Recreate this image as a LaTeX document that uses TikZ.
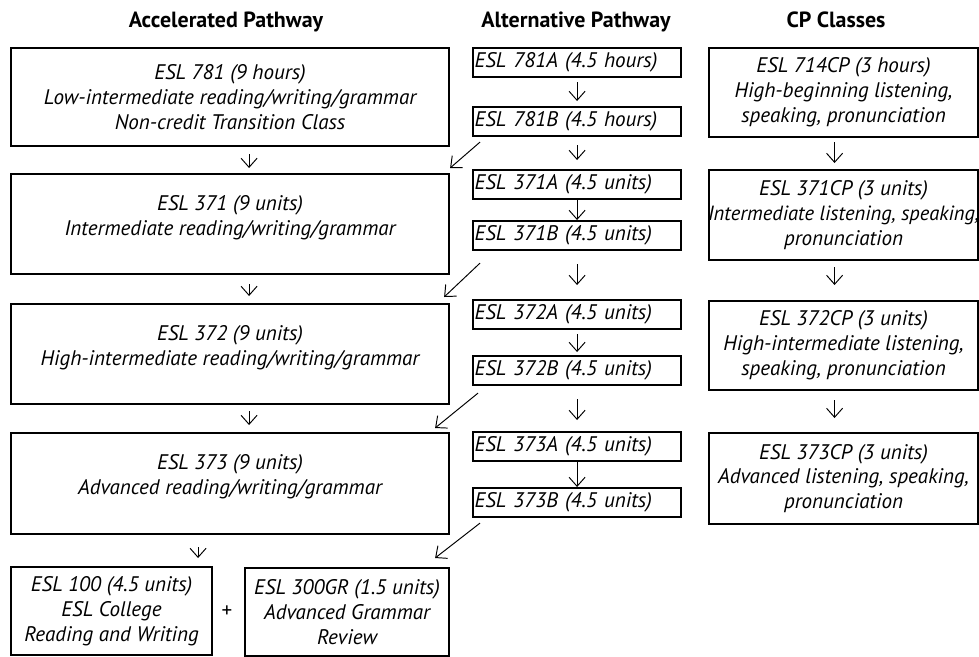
\documentclass[tikz,border=0pt]{standalone}
\usepackage{fontspec}
\setmainfont{PT Sans}
\usepackage{tikz}
\usetikzlibrary{arrows.meta, positioning}
\newcommand{\gapline}{\\[-4pt]\mbox{}}

\begin{document}
\begin{tikzpicture}[x=0.2mm, y=-0.2mm,
  every node/.style={font=\fontsize{12}{14.2}\selectfont\itshape, inner sep=0pt},
  bigbox/.style={draw, line width=1.2pt, align=center, anchor=north west},
  altbox/.style={draw, line width=1.2pt, anchor=north west, minimum width=41.6mm, minimum height=5.8mm, text width=41mm, inner xsep=0.3mm, align=left},
  cpbox/.style={bigbox, minimum width=53.8mm},
  heading/.style={font=\fontsize{12.5}{14.2}\selectfont\bfseries, anchor=base},
  arr/.style={-{Straight Barb[length=1.8mm, width=3.2mm]}, line width=0.55pt}]
  \useasboundingbox (0,0) rectangle (979,656);
  \node[heading] (hacc) at (226,27) {Accelerated Pathway};
  \node[heading] (halt) at (576,27) {Alternative Pathway};
  \node[heading] (hcp) at (836,27) {CP Classes};

  \node[bigbox, minimum width=87.6mm, minimum height=19.6mm] (b781) at (10,47) {ESL 781 (9 hours)\\Low-intermediate reading/writing/grammar\\Non-credit Transition Class};
  \node[bigbox, minimum width=87.6mm, minimum height=20mm] (b371) at (10,173) {ESL 371 (9 units)\\Intermediate reading/writing/grammar\gapline};
  \node[bigbox, minimum width=87.6mm, minimum height=20mm] (b372) at (10,303) {ESL 372 (9 units)\\High-intermediate reading/writing/grammar\gapline};
  \node[bigbox, minimum width=87.6mm, minimum height=20.2mm] (b373) at (10,432) {ESL 373 (9 units)\\Advanced reading/writing/grammar\gapline};
  \node[bigbox, minimum width=40.2mm, minimum height=17.6mm] (b100) at (10,566) {ESL 100 (4.5 units)\\ESL College\\Reading and Writing};
  \node[font=\fontsize{12}{14.2}\selectfont\upshape] (plus) at (227,612) {+};
  \node[bigbox, minimum width=40.8mm, minimum height=17.6mm] (b300) at (244,567) {ESL 300GR (1.5 units)\\Advanced Grammar\\Review};

  \node[altbox] (m781a) at (472,47) {ESL 781A (4.5 hours)};
  \node[altbox] (m781b) at (472,106) {ESL 781B (4.5 hours)};
  \node[altbox] (m371a) at (472,169) {ESL 371A (4.5 units)};
  \node[altbox] (m371b) at (472,220) {ESL 371B (4.5 units)};
  \node[altbox] (m372a) at (472,299) {ESL 372A (4.5 units)};
  \node[altbox] (m372b) at (472,355) {ESL 372B (4.5 units)};
  \node[altbox] (m373a) at (472,431) {ESL 373A (4.5 units)};
  \node[altbox] (m373b) at (472,487) {ESL 373B (4.5 units)};

  \node[cpbox, minimum height=17.8mm] (r714) at (708,47) {ESL 714CP (3 hours)\\High-beginning listening,\\speaking, pronunciation};
  \node[cpbox, minimum height=18mm] (r371) at (708,169) {ESL 371CP (3 units)\\\makebox[0pt]{\fontsize{11.7}{14.2}\selectfont Intermediate listening, speaking,}\\pronunciation};
  \node[cpbox, minimum height=17.8mm] (r372) at (708,300) {ESL 372CP (3 units)\\High-intermediate listening,\\speaking, pronunciation};
  \node[cpbox, minimum height=18.2mm] (r373) at (708,432) {ESL 373CP (3 units)\\Advanced listening, speaking,\\pronunciation};

  \draw[arr, shorten <=1.4mm, shorten >=1mm] ([xshift=3.8mm]b781.south) -- ([xshift=3.8mm]b371.north);
  \draw[arr, shorten <=1.8mm, shorten >=1.4mm] ([xshift=3.8mm]b371.south) -- ([xshift=3.8mm]b372.north);
  \draw[arr, shorten <=1.2mm, shorten >=1.4mm] ([xshift=3.8mm]b372.south) -- ([xshift=3.8mm]b373.north);
  \draw[arr, shorten <=2.4mm, shorten >=1.6mm] ([xshift=-6.4mm]b373.south) -- ([xshift=-6.4mm]b373.south |- b100.north);

  \draw[arr, shorten <=0.8mm, shorten >=1mm] (m781a) -- (m781b);
  \draw[arr, shorten <=1.6mm, shorten >=1.8mm] (m781b) -- (m371a);
  \draw[arr] (m371a) -- (m371b);
  \draw[arr, shorten <=2.6mm, shorten >=2.8mm] (m371b) -- (m372a);
  \draw[arr, shorten <=0.8mm, shorten >=0.6mm] (m372a) -- (m372b);
  \draw[arr, shorten <=2.6mm, shorten >=2.2mm] (m372b) -- (m373a);
  \draw[arr] (m373a) -- (m373b);

  \draw[arr, shorten <=0.8mm, shorten >=1.2mm] ([xshift=-1.8mm]r714.south) -- ([xshift=-1.8mm]r371.north);
  \draw[arr, shorten <=1.2mm, shorten >=3mm] ([xshift=-1.8mm]r371.south) -- ([xshift=-1.8mm]r372.north);
  \draw[arr, shorten <=1.8mm, shorten >=2.8mm] ([xshift=-1.8mm]r372.south) -- ([xshift=-1.8mm]r373.north);

  \draw[arr] ([xshift=1.6mm, yshift=-1mm]m781b.south west) -- ([yshift=1mm]b371.north east);
  \draw[arr] ([xshift=1.6mm, yshift=-2.4mm]m371b.south west) -- ([xshift=-1.2mm, yshift=1.2mm]b372.north east);
  \draw[arr] ([xshift=1.2mm, yshift=-1.4mm]m372b.south west) -- ([xshift=-3mm, yshift=0.8mm]b373.north east);
  \draw[arr] ([xshift=1.6mm, yshift=-1mm]m373b.south west) -- ([xshift=-3mm, yshift=1.8mm]b300.north east);
\end{tikzpicture}
\end{document}
